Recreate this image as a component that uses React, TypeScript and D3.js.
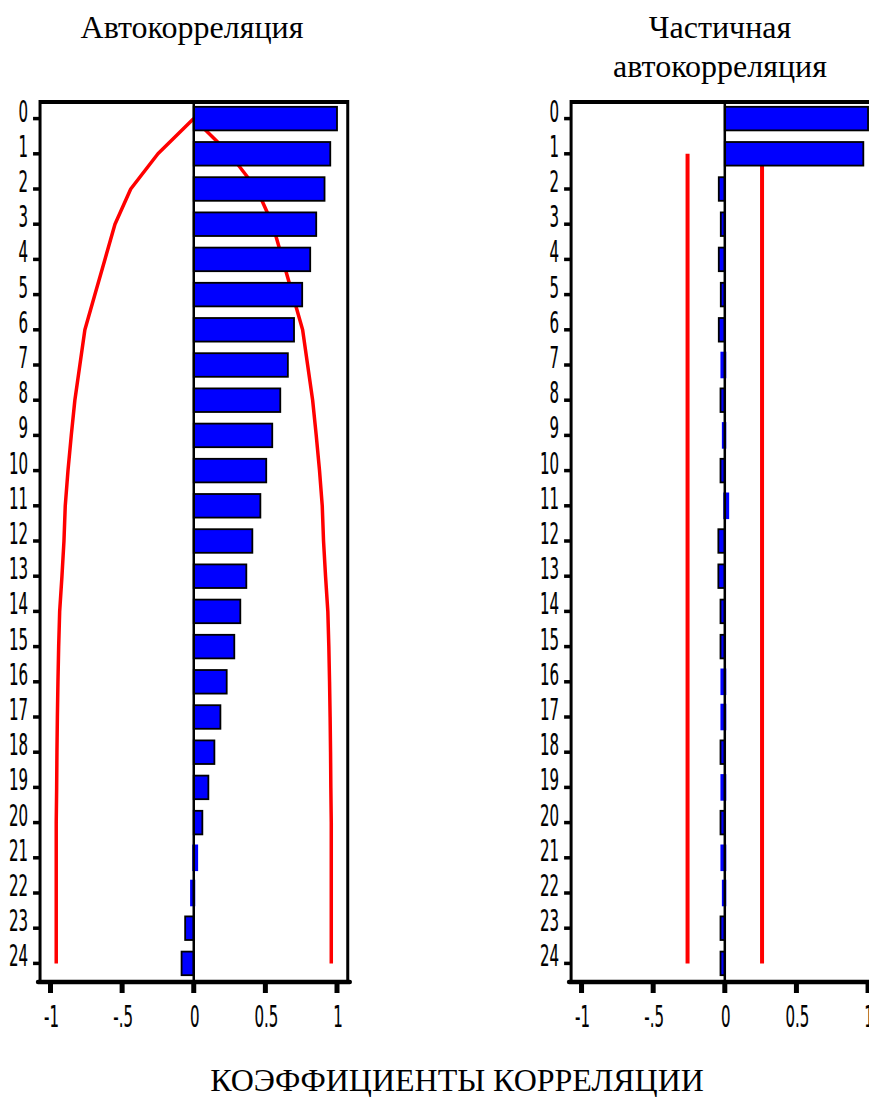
import * as d3 from 'd3'

// lags 0..24
const lags = [0, 1, 2, 3, 4, 5, 6, 7, 8, 9, 10, 11, 12, 13, 14, 15, 16, 17, 18, 19, 20, 21, 22, 23, 24]

// autocorrelation coefficients
const acf = [1.0, 0.953, 0.913, 0.855, 0.813, 0.757, 0.7, 0.657, 0.604, 0.548, 0.506, 0.465, 0.409, 0.367, 0.325, 0.283, 0.23, 0.186, 0.144, 0.102, 0.06, 0.02, -0.015, -0.06, -0.085]
// confidence band for acf (drawn as +/-)
const acfBand = [0, 0.25, 0.44, 0.55, 0.62, 0.69, 0.76, 0.795, 0.83, 0.855, 0.878, 0.897, 0.906, 0.92, 0.936, 0.943, 0.948, 0.952, 0.955, 0.957, 0.96, 0.96, 0.96, 0.96, 0.96]

// partial autocorrelation
const pacf = [1.0, 0.967, -0.042, -0.028, -0.042, -0.028, -0.042, -0.02, -0.03, -0.01, -0.03, 0.02, -0.045, -0.045, -0.03, -0.03, -0.02, -0.02, -0.03, -0.02, -0.03, -0.02, -0.01, -0.03, -0.03]
const pacfBound = 0.26

const xTicks = [-1, -0.5, 0, 0.5, 1]
const xTickLabels = ['-1', '-.5', '0', '0.5', '1']

const W = 869
const H = 1097
const yTop = 102
const yBottom = 982
const BLUE = '#0000ff'
const RED = '#ff0000'
const tickFont = '"DejaVu Sans", sans-serif'
const serif = '"Liberation Serif", "Times New Roman", serif'

const y = d3
    .scaleBand<number>()
    .domain(lags)
    .range([yTop - 1, yBottom - 1])
    .paddingInner(0.33)
    .paddingOuter(0.165)

const yc = (lag: number) => (y(lag) as number) + y.bandwidth() / 2

// narrow blocky labels like the original
const NarrowText = ({ x, y, anchor, children }) => (
    <text
        transform={`translate(${x},${y}) scale(0.5,1)`}
        textAnchor={anchor}
        fontFamily={tickFont}
        fontSize={30}
        fill="black"
        stroke="black"
        strokeWidth={0.2}
    >
        {children}
    </text>
)

const Panel = ({ x0, values, bands }) => {
    const x = d3.scaleLinear().domain([-1, 1]).range([x0 - 143.25, x0 + 143.25])
    const frameL = x(-1.073)
    const frameR = x(1.075)

    const bars = values.map((v, i) => {
        const small = Math.abs(v) < 0.025
        const x1 = x(Math.min(0, v))
        const x2 = x(Math.max(0, v))
        return (
            <rect
                key={i}
                x={x1}
                y={y(lags[i])}
                width={x2 - x1}
                height={y.bandwidth()}
                fill={BLUE}
                stroke={small ? BLUE : 'black'}
                strokeWidth={small ? 3 : 1.8}
            />
        )
    })

    return (
        <g>
            {bands(x)}
            {bars}
            {/* zero line */}
            <line x1={x(0)} x2={x(0)} y1={yTop} y2={yBottom} stroke="black" strokeWidth={2.5} />
            {/* frame */}
            <line x1={frameL} x2={frameR} y1={yTop} y2={yTop} stroke="black" strokeWidth={4} />
            <line x1={frameL} x2={frameL} y1={yTop - 2} y2={yBottom} stroke="black" strokeWidth={3} />
            <line x1={frameR} x2={frameR} y1={yTop - 2} y2={yBottom} stroke="black" strokeWidth={3} />
            <line x1={frameL - 2} x2={frameR + 2} y1={yBottom} y2={yBottom} stroke="black" strokeWidth={4.5} strokeLinecap="round" />
            {/* y ticks + labels */}
            {lags.map(l => (
                <g key={l}>
                    <line x1={frameL - 7} x2={frameL - 1} y1={yc(l)} y2={yc(l)} stroke="black" strokeWidth={3.5} />
                    <NarrowText x={frameL - 12} y={yc(l) + 3} anchor="end">{String(l)}</NarrowText>
                </g>
            ))}
            {/* x ticks + labels */}
            {xTicks.map((t, i) => (
                <g key={t}>
                    <line x1={x(t)} x2={x(t)} y1={yBottom} y2={yBottom + 11} stroke="black" strokeWidth={5} />
                    <NarrowText x={x(t) + 1} y={1027} anchor="middle">{xTickLabels[i]}</NarrowText>
                </g>
            ))}
        </g>
    )
}

const App = () => {
    const acfBands = x => {
        const upper = d3
            .line<number>()
            .x((d, i) => x(d))
            .y((d, i) => yc(lags[i]))
        const lower = d3
            .line<number>()
            .x((d, i) => x(-d))
            .y((d, i) => yc(lags[i]))
        return (
            <g fill="none" stroke={RED} strokeWidth={3.5} strokeLinejoin="round">
                <path d={upper(acfBand) as string} />
                <path d={lower(acfBand) as string} />
            </g>
        )
    }

    const pacfBands = x => (
        <g stroke={RED} strokeWidth={4}>
            {[-pacfBound, pacfBound].map(b => (
                <line key={b} x1={x(b)} x2={x(b)} y1={yc(lags[1])} y2={yc(lags[lags.length - 1])} />
            ))}
        </g>
    )

    return (
        <svg
            width={W}
            height={H}
            style={{ position: 'absolute', left: 0, top: 0, background: 'white' }}
        >
            <text x={192} y={38} textAnchor="middle" fontFamily={serif} fontSize={32}>Автокорреляция</text>
            <text x={720} y={38} textAnchor="middle" fontFamily={serif} fontSize={32}>Частичная</text>
            <text x={720} y={77} textAnchor="middle" fontFamily={serif} fontSize={32}>автокорреляция</text>

            <Panel x0={193.75} values={acf} bands={acfBands} />
            <Panel x0={724.8} values={pacf} bands={pacfBands} />

            <text x={457} y={1091} textAnchor="middle" fontFamily={serif} fontSize={32}>КОЭФФИЦИЕНТЫ КОРРЕЛЯЦИИ</text>
        </svg>
    )
}

export default App
